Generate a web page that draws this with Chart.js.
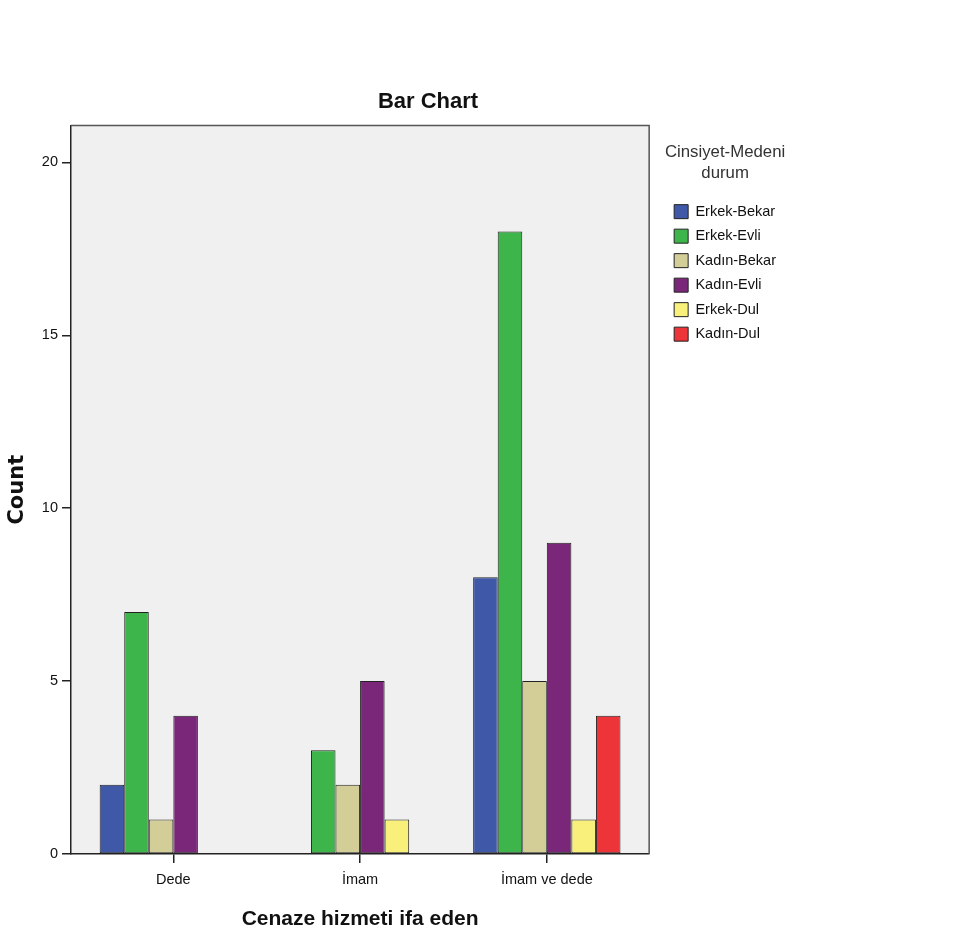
<!DOCTYPE html>
<html>
<head>
<meta charset="utf-8">
<script src="https://cdn.jsdelivr.net/npm/chart.js@4.4.1/dist/chart.umd.min.js"></script>
<style>
	body { margin: 0; background: #fff; }
</style>
</head>
<body>
<canvas id="bar-chart" width="965" height="940"></canvas>
<script>
// values
var categories = ["Dede", "İmam", "İmam ve dede"];
var seriesNames = ["Erkek-Bekar", "Erkek-Evli", "Kadın-Bekar", "Kadın-Evli", "Erkek-Dul", "Kadın-Dul"];
var erkekBekar = [2, 0, 8];
var erkekEvli = [7, 3, 18];
var kadinBekar = [1, 2, 5];
var kadinEvli = [4, 5, 9];
var erkekDul = [0, 1, 1];
var kadinDul = [0, 0, 4];
var yTicks = [0, 5, 10, 15, 20];

var colors = ["#3f58a7", "#3db54a", "#d3cd97", "#7b2779", "#f8f07a", "#ec3439"];
var FONT = "'Liberation Sans', Arial, sans-serif";
var TITLE_CENTER = 428;

var series = [erkekBekar, erkekEvli, kadinBekar, kadinEvli, erkekDul, kadinDul];

// empty cells (0) are not drawn, but keep their slot in the group
function toPoints(values) {
	return values.map(function(v, i) {
		return { x: i, y: v === 0 ? null : v };
	});
}

var datasets = series.map(function(values, k) {
	return {
		label : seriesNames[k],
		data : toPoints(values),
		backgroundColor : colors[k],
		borderColor : "#222",
		borderWidth : 1,
		borderSkipped : false,
		categoryPercentage : 0.789,
		barPercentage : 1
	};
});

//grey plot box + move title to where the reference has it
var plotFrame = {
	id : "plotFrame",
	afterLayout : function(chart) {
		chart.titleBlock.left = 0;
		chart.titleBlock.right = TITLE_CENTER * 2;
		chart.titleBlock.width = TITLE_CENTER * 2;
	},
	beforeDraw : function(chart) {
		var a = chart.chartArea, ctx = chart.ctx;
		ctx.save();
		ctx.fillStyle = "#f0f0f0";
		ctx.fillRect(a.left, a.top, a.right - a.left, a.bottom - a.top);
		ctx.restore();
	},
	beforeDatasetsDraw : function(chart) {
		var a = chart.chartArea, ctx = chart.ctx;
		ctx.save();
		ctx.strokeStyle = "#555";
		ctx.lineWidth = 1.5;
		ctx.beginPath();
		ctx.moveTo(a.left, a.top);
		ctx.lineTo(a.right, a.top);
		ctx.lineTo(a.right, a.bottom);
		ctx.stroke();
		ctx.restore();
	}
};

var ctx = document.getElementById("bar-chart");

var chart = new Chart(ctx, {
	type : "bar",
	data : { datasets : datasets },
	plugins : [plotFrame],
	options : {
		responsive : false,
		animation : false,
		layout : { padding : { left : 0, right : 179, top : 0, bottom : 0 } },
		plugins : {
			title : {
				display : true,
				text : "Bar Chart",
				color : "#111",
				font : { family : FONT, size : 22, weight : "bold" },
				padding : { top : 89, bottom : 10 }
			},
			legend : {
				display : true,
				position : "right",
				align : "start",
				fullSize : false,
				title : {
					display : true,
					text : ["Cinsiyet-Medeni", "durum"],
					color : "#333",
					position : "center",
					font : { family : FONT, size : 16.8, lineHeight : 1.25 },
					padding : { top : 19, bottom : 29 }
				},
				labels : {
					color : "#111",
					font : { family : FONT, size : 14.5 },
					boxWidth : 14,
					boxHeight : 14,
					padding : 10
				}
			},
			tooltip : { enabled : false }
		},
		scales : {
			x : {
				type : "linear",
				min : -0.548,
				max : 2.548,
				offset : false,
				afterBuildTicks : function(scale) {
					scale.ticks = categories.map(function(c, i) { return { value : i }; });
				},
				afterFit : function(scale) { scale.height = 86; },
				ticks : {
					color : "#111",
					font : { family : FONT, size : 14.5 },
					padding : 8,
					maxRotation : 0,
					callback : function(value) { return categories[value]; }
				},
				grid : { display : true, offset : false, drawOnChartArea : false, drawTicks : true, tickLength : 9, lineWidth : 1.5, color : "#222" },
				border : { display : true, color : "#222", width : 1.5 },
				title : {
					display : true,
					text : "Cenaze hizmeti ifa eden",
					color : "#111",
					font : { family : FONT, size : 21, weight : "bold" },
					padding : { top : 0, bottom : 8 }
				}
			},
			y : {
				min : 0,
				max : 21.07,
				afterBuildTicks : function(scale) {
					scale.ticks = yTicks.map(function(v) { return { value : v }; });
				},
				afterFit : function(scale) { scale.width = 71; },
				ticks : {
					color : "#111",
					font : { family : FONT, size : 14.5 },
					padding : 4
				},
				grid : { display : true, drawOnChartArea : false, drawTicks : true, tickLength : 9, lineWidth : 1.5, color : "#222" },
				border : { display : true, color : "#222", width : 1.5 },
				title : {
					display : true,
					text : "Count",
					color : "#111",
					font : { family : "'DejaVu Sans', sans-serif", size : 21, weight : "bold" },
					padding : { top : 5, bottom : 0 }
				}
			},
			gap : {
				type : "linear",
				position : "right",
				display : true,
				ticks : { display : false },
				grid : { display : false },
				border : { display : false },
				afterFit : function(scale) { scale.width = 15; }
			}
		}
	}
});
</script>
</body>
</html>
